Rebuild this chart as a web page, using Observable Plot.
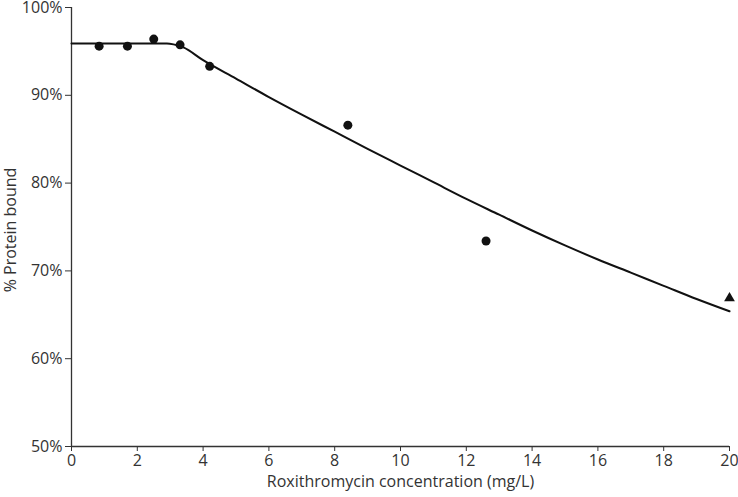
<!DOCTYPE html>
<html>
<head>
<meta charset="utf-8">
<script src="https://cdn.jsdelivr.net/npm/d3@7"></script>
<script src="https://cdn.jsdelivr.net/npm/@observablehq/plot@0.6"></script>
<style>
  html, body { margin: 0; padding: 0; background: #fff; }
  #chart svg { display: block; overflow: visible; }
</style>
</head>
<body>
<div id="chart"></div>
<script>
// Measured points (circles)
const pointConc = [0.84, 1.7, 2.5, 3.3, 4.2, 8.4, 12.6];
const pointBound = [95.6, 95.6, 96.4, 95.75, 93.3, 86.6, 73.4];
// Triangle point
const triConc = [20];
const triBound = [66.9];
// Fitted curve
const curveConc = [0, 1, 2, 2.9, 3.1, 3.4, 4, 5, 6, 7, 8, 9, 10, 11, 12, 13, 14, 15, 16, 17, 18, 19, 20];
const curveBound = [95.9, 95.9, 95.9, 95.9, 95.8, 95.45, 94.0, 91.9, 89.8, 87.8, 85.85, 83.9, 82.0, 80.1, 78.2, 76.4, 74.6, 72.9, 71.3, 69.8, 68.3, 66.8, 65.4];
const xTicks = [0, 2, 4, 6, 8, 10, 12, 14, 16, 18, 20];
const yTicks = [50, 60, 70, 80, 90, 100];

const points = pointConc.map((x, i) => ({x, y: pointBound[i]}));
const tri = triConc.map((x, i) => ({x, y: triBound[i]}));
const curve = curveConc.map((x, i) => ({x, y: curveBound[i]}));

const textColor = "#333";
const font = "'Open Sans', Lato, sans-serif";
const chart = Plot.plot({
  width: 738,
  height: 497,
  marginLeft: 71,
  marginRight: 9,
  marginTop: 7,
  marginBottom: 51,
  style: { fontFamily: font, fontSize: "16px", color: textColor, background: "#fff", overflow: "visible" },
  x: { domain: [0, 20] },
  y: { domain: [50, 100] },
  marks: [
    Plot.axisX({ ticks: xTicks, tickSize: 5, tickPadding: 3, fontSize: 16, label: null, stroke: "#333" }),
    Plot.axisY({ ticks: yTicks, tickSize: 6, tickPadding: 3, fontSize: 16, label: null, tickFormat: d => d + "%", stroke: "#333" }),
    Plot.ruleX([0], { stroke: "#333", strokeWidth: 1.3 }),
    Plot.ruleY([50], { stroke: "#333", strokeWidth: 1.3 }),
    Plot.line(curve, { x: "x", y: "y", stroke: "#111", strokeWidth: 2, curve: "monotone-x" }),
    Plot.dot(points, { x: "x", y: "y", r: 4.5, fill: "#111", stroke: "none" }),
    Plot.dot(tri, { x: "x", y: "y", r: 4, symbol: "triangle", fill: "#111", stroke: "none" }),
    Plot.text(["Roxithromycin concentration (mg/L)"], { frameAnchor: "bottom", dy: 40, fontSize: 16, fill: textColor }),
    Plot.text(["% Protein bound"], { frameAnchor: "left", textAnchor: "middle", dx: -61, dy: 3, rotate: -90, fontSize: 16, fill: textColor })
  ]
});
document.getElementById("chart").appendChild(chart);
</script>
</body>
</html>
